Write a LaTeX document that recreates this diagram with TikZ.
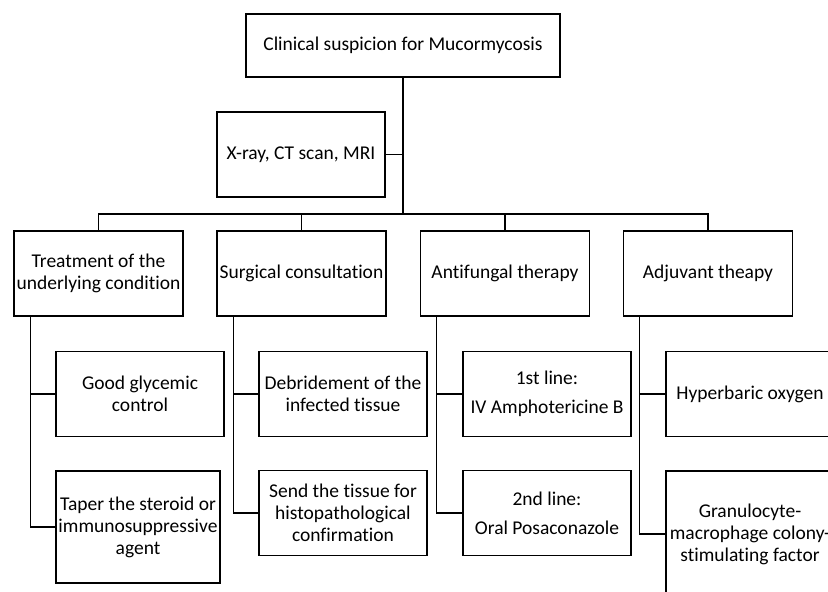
\documentclass[tikz,border=0pt]{standalone}
\usepackage{fontspec}
\setmainfont[Ligatures=NoCommon]{Carlito}
\usepackage{tikz}

\begin{document}
\begin{tikzpicture}[x=1pt,y=-1pt,
    box/.style={draw,line width=1.5pt,align=center,inner sep=0pt,
      font=\fontsize{19.5}{22}\selectfont},
    col/.style={box,minimum width=169pt,minimum height=85pt},
    link/.style={line width=1.2pt}]
    \useasboundingbox (0,0) rectangle (828,592);

    \node[box,minimum width=314pt,minimum height=63pt] (top) at (403,45.5) {Clinical suspicion for Mucormycosis};
    \node[col,minimum width=168pt] (imaging) at (301,154.5) {X-ray, CT scan, MRI};
    \coordinate (hub) at (403,214);

    \node[col] (treat) at (98.5,273.5) {Treatment of the\\underlying condition};
    \node[col] (surg) at (301.5,273.5) {Surgical consultation};
    \node[col] (antif) at (505,273.5) {Antifungal therapy};
    \node[col] (adjuv) at (708,273.5) {Adjuvant theapy};

    \node[col,minimum width=168pt] (glyc) at (140,394) {Good glycemic\\control};
    \node[col,minimum width=164pt,minimum height=112pt] (taper) at (138,527) {Taper the steroid or\\immunosuppressive\\agent};
    \node[col,minimum width=168pt] (debrid) at (343,394) {Debridement of the\\infected tissue};
    \node[col,minimum width=168pt] (histo) at (343,513) {Send the tissue for\\histopathological\\confirmation};
    \node[col,minimum width=168pt] (first) at (547,394) {1st line:\\[7pt]IV Amphotericine B};
    \node[col,minimum width=168pt] (second) at (547,513) {2nd line:\\[7pt]Oral Posaconazole};
    \node[col,minimum width=168pt] (hyper) at (750,394) {Hyperbaric oxygen};
    \node[col,minimum width=168pt,minimum height=126pt] (gcsf) at (750,534) {Granulocyte-\\macrophage colony-\\stimulating factor};

    \draw[link] (top) -- (hub);
    \draw[link] (imaging) -- (imaging -| hub);
    \foreach \c in {treat, surg, antif, adjuv}
      \draw[link] (hub) -| (\c.north);

    \draw[link] ([xshift=17pt]treat.south west) |- (glyc.west);
    \draw[link] ([xshift=17pt]treat.south west) |- (taper.west);
    \draw[link] ([xshift=17pt]surg.south west) |- (debrid.west);
    \draw[link] ([xshift=17pt]surg.south west) |- (histo.west);
    \draw[link] ([xshift=17pt]antif.south west) |- (first.west);
    \draw[link] ([xshift=17pt]antif.south west) |- (second.west);
    \draw[link] ([xshift=17pt]adjuv.south west) |- (hyper.west);
    \draw[link] ([xshift=17pt]adjuv.south west) |- (gcsf.west);
\end{tikzpicture}
\end{document}
